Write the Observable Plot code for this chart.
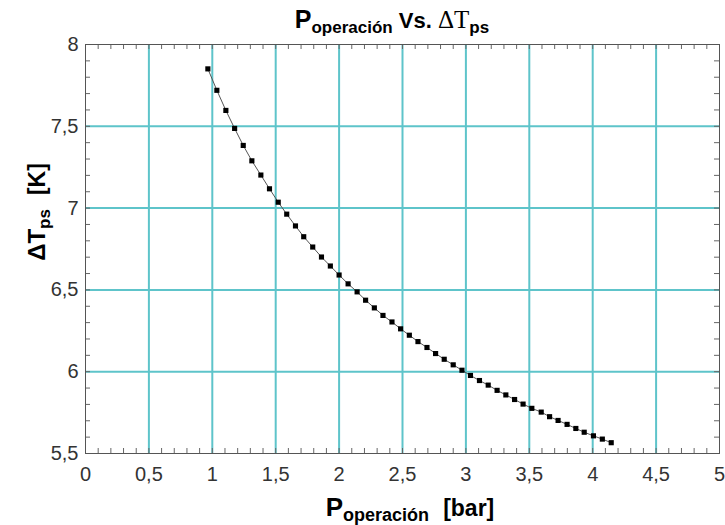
<!DOCTYPE html>
<html>
<head>
<meta charset="utf-8">
<script src="https://cdn.jsdelivr.net/npm/d3@7"></script>
<script src="https://cdn.jsdelivr.net/npm/@observablehq/plot@0.6"></script>
<style>
  html, body { margin: 0; padding: 0; background: #fff; }
</style>
</head>
<body>
<div id="chart"></div>
<script>
const pressure = [0.965, 1.036, 1.107, 1.176, 1.244, 1.312, 1.383, 1.451, 1.520, 1.587,
  1.656, 1.721, 1.792, 1.861, 1.931, 2.000, 2.071, 2.142, 2.209, 2.278,
  2.346, 2.417, 2.485, 2.554, 2.622, 2.693, 2.761, 2.829, 2.900, 2.969,
  3.036, 3.107, 3.176, 3.246, 3.315, 3.384, 3.451, 3.520, 3.594, 3.660,
  3.727, 3.798, 3.867, 3.933, 4.006, 4.076, 4.146];
const deltaT = [7.851, 7.720, 7.597, 7.487, 7.383, 7.289, 7.202, 7.118, 7.036, 6.963,
  6.891, 6.825, 6.762, 6.701, 6.646, 6.591, 6.537, 6.488, 6.437, 6.390,
  6.344, 6.304, 6.262, 6.223, 6.184, 6.148, 6.111, 6.076, 6.042, 6.009,
  5.977, 5.946, 5.918, 5.886, 5.858, 5.830, 5.802, 5.776, 5.753, 5.725,
  5.702, 5.678, 5.653, 5.630, 5.608, 5.588, 5.566];
const xTicks = [0, 0.5, 1, 1.5, 2, 2.5, 3, 3.5, 4, 4.5, 5];
const yTicks = [5.5, 6, 6.5, 7, 7.5, 8];
const xGridLines = [0.5, 1, 1.5, 2, 2.5, 3, 3.5, 4, 4.5];
const yGridLines = [6, 6.5, 7, 7.5];
const xMinor = d3.range(0, 51).map(i => i / 10);
const yMinor = d3.range(55, 81).map(i => i / 10);

const data = pressure.map((p, i) => ({p, t: deltaT[i]}));

const W = 725, H = 525, mL = 85, mR = 6, mT = 44, mB = 72;
const plotW = W - mL - mR, plotH = H - mT - mB;
const teal = "#5ec4ca";
const fmt = d => String(d).replace(".", ",");

const svg = Plot.plot({
  width: W, height: H,
  marginLeft: mL, marginRight: mR, marginTop: mT, marginBottom: mB,
  style: {fontFamily: "'Liberation Sans', Arial, sans-serif", fontSize: "20px", color: "#333", background: "#fff"},
  x: {domain: [0, 5]},
  y: {domain: [5.5, 8]},
  marks: [
    Plot.gridX(xGridLines, {stroke: teal, strokeOpacity: 1, strokeWidth: 2}),
    Plot.gridY(yGridLines, {stroke: teal, strokeOpacity: 1, strokeWidth: 2}),
    Plot.tickX(xMinor, {x: d => d, insetTop: plotH - 5, stroke: "#666"}),
    Plot.tickX(xMinor, {x: d => d, insetBottom: plotH - 5, stroke: "#666"}),
    Plot.tickY(yMinor, {y: d => d, insetRight: plotW - 5, stroke: "#666"}),
    Plot.tickY(yMinor, {y: d => d, insetLeft: plotW - 5, stroke: "#666"}),
    Plot.frame({stroke: "#555"}),
    Plot.line(data, {x: "p", y: "t", stroke: "#555", strokeWidth: 1}),
    Plot.dot(data, {x: "p", y: "t", symbol: "square", r: 2.9, fill: "#000", stroke: "none"}),
    Plot.axisX(xTicks, {tickSize: 0, tickPadding: 13, tickFormat: fmt, label: null, fontSize: 20, fill: "#333"}),
    Plot.axisY(yTicks, {tickSize: 0, tickPadding: 7, tickFormat: fmt, label: null, fontSize: 20, fill: "#333"})
  ]
});

const s = d3.select(svg);
// Title
const title = s.append("text")
  .attr("x", 392).attr("y", 28)
  .attr("text-anchor", "middle")
  .attr("fill", "#000")
  .style("font-family", "'Liberation Sans', Arial, sans-serif")
  .style("font-weight", "bold");
title.append("tspan").attr("font-size", 25).text("P");
title.append("tspan").attr("font-size", 17).attr("dy", 5).text("operación");
title.append("tspan").attr("font-size", 22).attr("dy", -5).text(" Vs. ");
title.append("tspan").attr("font-size", 25).style("font-family", "'Liberation Serif', 'Times New Roman', serif").style("font-weight", "normal").text("ΔT");
title.append("tspan").attr("font-size", 17).attr("dy", 5).text("ps");

// X label
const xl = s.append("text")
  .attr("x", 410).attr("y", 516)
  .attr("text-anchor", "middle")
  .attr("fill", "#000")
  .style("font-family", "'Liberation Sans', Arial, sans-serif")
  .style("font-weight", "bold");
xl.append("tspan").attr("font-size", 26).text("P");
xl.append("tspan").attr("font-size", 18).attr("dy", 5).text("operación");
xl.append("tspan").attr("font-size", 23).attr("dy", -5).attr("dx", 14).text("[bar]");

// Y label
const yl = s.append("text")
  .attr("transform", "translate(45,212) rotate(-90)")
  .attr("text-anchor", "middle")
  .attr("fill", "#000")
  .style("font-family", "'Liberation Sans', Arial, sans-serif")
  .style("font-weight", "bold");
yl.append("tspan").attr("font-size", 24).text("ΔT");
yl.append("tspan").attr("font-size", 17).attr("dy", 5).text("ps");
yl.append("tspan").attr("font-size", 23).attr("dy", -5).attr("dx", 14).text("[K]");

document.getElementById("chart").appendChild(svg);
</script>
</body>
</html>
